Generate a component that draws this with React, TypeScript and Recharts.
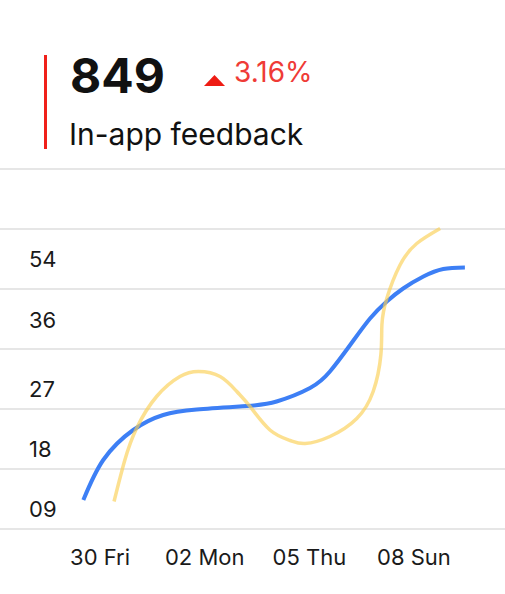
import React from 'react';
import { LineChart, Line, XAxis, YAxis, CartesianGrid } from 'recharts';

// x unit: days after "30 Fri"
const xTickValues = [0, 3, 6, 9];
const xTickLabels = ['30 Fri', '02 Mon', '05 Thu', '08 Sun'];

const yGridValues = [0, 12, 24, 36, 48, 60, 72];
const yLabelValues = [2.4, 14.4, 26.4, 40.2, 52.4];
const yLabels = ['09', '18', '27', '36', '54'];

const blueDays = [-0.48, 0.09, 0.95, 1.81, 2.77, 4.2, 5.06, 6.02, 6.59, 7.17, 7.74, 8.22, 8.69, 9.27, 9.84, 10.46];
const blueValues = [5.8, 13.8, 19.8, 22.8, 23.9, 24.6, 25.5, 28.2, 31.5, 36.8, 42.1, 45.5, 48.1, 50.5, 52.0, 52.3];

const yellowDays = [0.4, 0.71, 1.05, 1.62, 2.29, 2.82, 3.44, 3.92, 4.3, 4.87, 5.45, 5.88, 6.59, 7.36, 7.83, 8.05, 8.08, 8.22, 8.6, 9.08, 9.75];
const yellowValues = [5.5, 13.8, 20.2, 26.5, 30.5, 31.5, 30.5, 27.5, 24.5, 19.8, 17.7, 17.1, 18.5, 22.1, 27.5, 34.8, 40.8, 46.1, 52.8, 57.1, 60.1];

const headerValue = '849';
const headerChange = '3.16%';
const headerTitle = 'In-app feedback';

const blueData = blueDays.map((d, i) => ({ x: d, v: blueValues[i] }));
const yellowData = yellowDays.map((d, i) => ({ x: d, v: yellowValues[i] }));

const FONT = 'Inter, "Noto Sans", sans-serif';

const XTick = (props: any) => {
  const { x, y, index } = props;
  return (
    <text x={x} y={y + 36} textAnchor="middle" fontSize={22} fill="#1a1a1a" fontFamily={FONT}>
      {xTickLabels[index]}
    </text>
  );
};

const YTick = (props: any) => {
  const { y, index } = props;
  return (
    <text x={29} y={y} textAnchor="start" fontSize={22} fill="#1a1a1a" fontFamily={FONT}>
      {yLabels[index]}
    </text>
  );
};

export default function App() {
  return (
    <div style={{ position: 'absolute', left: 0, top: 0, width: 505, height: 594, background: '#fff' }}>
      <svg width={505} height={160} style={{ position: 'absolute', left: 0, top: 0 }}>
        <rect x={44} y={55} width={3} height={94} fill="#f0201a" />
        <text x={70} y={93} fontSize={48} fontWeight={700} fill="#111" fontFamily={FONT}>
          {headerValue}
        </text>
        <polygon points="204,86 225,86 214.5,75" fill="#ee1c14" />
        <text x={234} y={82} fontSize={28} fill="#ef3b36" fontFamily={FONT}>
          {headerChange}
        </text>
        <text x={69} y={145} fontSize={30} fill="#111" fontFamily={FONT}>
          {headerTitle}
        </text>
      </svg>
      <div style={{ position: 'absolute', left: 0, top: 0 }}>
        <LineChart width={505} height={594} margin={{ top: 169, right: 0, bottom: 0, left: 0 }}>
          <CartesianGrid
            vertical={false}
            horizontalValues={yGridValues}
            stroke="#e6e6e6"
            strokeWidth={2}
          />
          <XAxis
            type="number"
            dataKey="x"
            domain={[-2.87, 11.61]}
            ticks={xTickValues}
            allowDataOverflow
            axisLine={false}
            tickLine={false}
            tickSize={0}
            tickMargin={0}
            height={65}
            interval={0}
            tick={<XTick />}
          />
          <YAxis
            type="number"
            domain={[0, 72]}
            ticks={yLabelValues}
            mirror
            width={60}
            axisLine={false}
            tickLine={false}
            interval={0}
            tick={<YTick />}
          />
          <Line
            data={blueData}
            dataKey="v"
            type="natural"
            stroke="#3d7ff5"
            strokeWidth={4}
            dot={false}
            activeDot={false}
            isAnimationActive={false}
          />
          <Line
            data={yellowData}
            dataKey="v"
            type="natural"
            stroke="#fbcf55"
            strokeOpacity={0.65}
            strokeWidth={3.5}
            dot={false}
            activeDot={false}
            isAnimationActive={false}
          />
        </LineChart>
      </div>
    </div>
  );
}
